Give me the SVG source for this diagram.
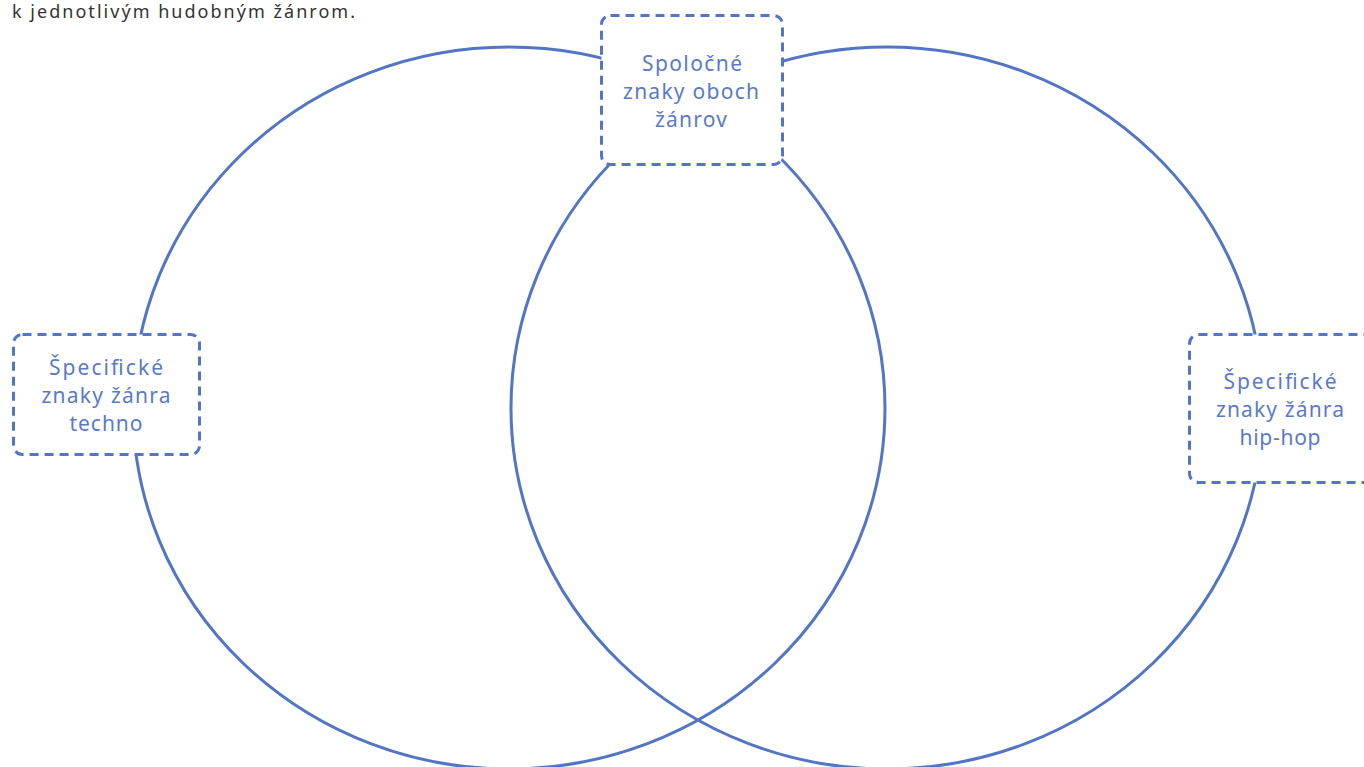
<svg xmlns="http://www.w3.org/2000/svg" width="1364" height="767" viewBox="0 0 1364 767">
<style>
.circ{fill:none;stroke:#5275c5;stroke-width:3}
.box{fill:#fff;stroke:#5275c5;stroke-width:3;stroke-dasharray:9 6}
.lbl{font-family:"Noto Sans","Liberation Sans",sans-serif;font-size:21px;fill:#5a7ac8;text-anchor:middle}
.cap{font-family:"Noto Sans","Liberation Sans",sans-serif;font-size:18px;fill:#333}
</style>
<rect width="1364" height="767" fill="#fff"/>
<text class="cap" x="12" y="18" textLength="343" lengthAdjust="spacing">k jednotlivým hudobným žánrom.</text>
<g id="connectors">
<ellipse class="circ" cx="509" cy="408" rx="376" ry="361"/>
<ellipse class="circ" cx="887" cy="408" rx="376" ry="361"/>
</g>
<g id="common">
<rect class="box" x="601.5" y="15.5" width="181" height="149" rx="9"/>
<text class="lbl" x="692" y="71" textLength="100" lengthAdjust="spacing">Spoločné</text>
<text class="lbl" x="691" y="99" textLength="136" lengthAdjust="spacing">znaky oboch</text>
<text class="lbl" x="691" y="127" textLength="72" lengthAdjust="spacing">žánrov</text>
</g>
<g id="techno">
<rect class="box" x="13.5" y="334.5" width="186" height="120" rx="9"/>
<text class="lbl" x="106" y="375" textLength="114" lengthAdjust="spacing">Špecifické</text>
<text class="lbl" x="106" y="403" textLength="129" lengthAdjust="spacing">znaky žánra</text>
<text class="lbl" x="106" y="431" textLength="73" lengthAdjust="spacing">techno</text>
</g>
<g id="hiphop">
<rect class="box" x="1189.5" y="334.5" width="190" height="148" rx="9"/>
<text class="lbl" x="1280" y="389" textLength="113" lengthAdjust="spacing">Špecifické</text>
<text class="lbl" x="1280" y="417" textLength="128" lengthAdjust="spacing">znaky žánra</text>
<text class="lbl" x="1280" y="445" textLength="81" lengthAdjust="spacing">hip-hop</text>
</g>
</svg>
